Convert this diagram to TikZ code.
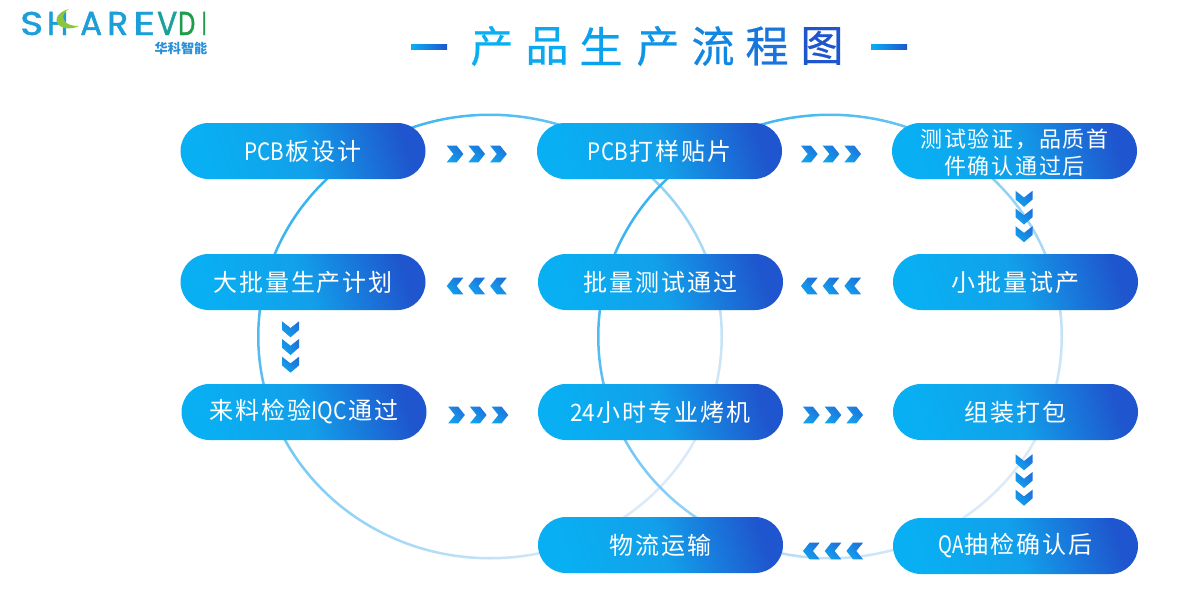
\documentclass[tikz,border=0pt]{standalone}
\usepackage{fontspec}
\setmainfont{Noto Sans CJK SC}
\newfontfamily\logofont[FakeBold=1.5]{Poppins}
\newfontfamily\boxfont[LetterSpace=8]{Noto Sans CJK SC}
\newfontfamily\latfont{Noto Sans CJK SC}
\newfontfamily\titlefont[FakeBold=0.6]{Noto Sans CJK SC}
\usetikzlibrary{calc,shapes.misc}
\definecolor{gA}{HTML}{08B0F3}
\definecolor{gM}{HTML}{12A0EA}
\definecolor{gB}{HTML}{1F55CE}
\definecolor{ringS}{HTML}{38B4F0}
\definecolor{ringE}{HTML}{DCEAF9}
\definecolor{logoB}{HTML}{1C9FD8}
\definecolor{logoT}{HTML}{1CA09A}
\definecolor{logoG}{HTML}{1E9E4A}
\definecolor{logoL}{HTML}{8CC63F}
\definecolor{logoC}{HTML}{2A8FD8}
\definecolor{chevA}{HTML}{12A2EC}
\definecolor{chevB}{HTML}{1E72DC}
\tikzset{
  x=1pt,y=-1pt,
  flowbox/.style={rounded rectangle,minimum width=245pt,minimum height=56pt,inner sep=0pt,
    left color=gA,right color=gB,middle color=gM,shading angle=108,
    text=white,font=\boxfont\fontsize{24}{28}\selectfont,align=center},
  ring/.style={even odd rule,left color=ringS,right color=ringE,shading angle=45},
  chev/.style={left color=chevA,right color=chevB,shading angle=135},
  logoletter/.style={inner sep=0pt,anchor=west},
}
\newcommand{\chevR}[1]{%
  \foreach \d in {-21.7,0,21.7}{
    \begin{scope}[shift={(#1)},xshift=\d pt]
      \shade[chev] (-8.3,-8.3) -- (1.7,-8.3) -- (8.3,0) -- (1.7,8.3) -- (-8.3,8.3) -- (-1.6,0) -- cycle;
    \end{scope}}}
\newcommand{\chevL}[1]{%
  \foreach \d in {-21.7,0,21.7}{
    \begin{scope}[shift={(#1)},xshift=\d pt]
      \shade[chev] (8.3,-8.3) -- (-1.7,-8.3) -- (-8.3,0) -- (-1.7,8.3) -- (8.3,8.3) -- (1.6,0) -- cycle;
    \end{scope}}}
\newcommand{\chevD}[1]{%
  \foreach \d in {-17.7,0,17.7}{
    \begin{scope}[shift={(#1)},yshift=-\d pt]
      \shade[chev] (-8.5,-8) -- (0,-1.3) -- (8.5,-8) -- (8.5,0.7) -- (0,8) -- (-8.5,0.7) -- cycle;
    \end{scope}}}
\newcommand{\lat}[2]{\scalebox{#1}[1]{\latfont\fontsize{24}{28}\selectfont #2}\hspace{1.5pt}}
\begin{document}
\begin{tikzpicture}
\useasboundingbox[fill=white] (0,0) rectangle (1194,594);
% rings
\shade[ring] (490,336.5) ellipse (233 and 223) (490,336.5) ellipse (230.5 and 220.5);
\shade[ring] (830,336.5) ellipse (233 and 223) (830,336.5) ellipse (230.5 and 220.5);
% boxes
\node[flowbox] (a1) at (303,151) {\lat{.86}{PCB}板设计};
\node[flowbox] (a2) at (659.5,151) {\lat{.86}{PCB}打样贴片};
\node[flowbox,font=\boxfont\fontsize{22}{27}\selectfont] (a3) at (1014.5,151) {\raisebox{-5pt}[\height][\depth]{\begin{tabular}{@{}c@{}}测试验证，品质首\\件确认通过后\end{tabular}}};
\node[flowbox] (b1) at (303,282) {大批量生产计划};
\node[flowbox] (b2) at (660.5,282) {批量测试通过};
\node[flowbox] (b3) at (1015.5,282) {小批量试产};
\node[flowbox] (c1) at (304,412) {来料检验\lat{.88}{IQC}通过};
\node[flowbox] (c2) at (660.5,412) {\lat{.94}{24}小时专业烤机};
\node[flowbox] (c3) at (1015.5,412) {组装打包};
\node[flowbox] (d2) at (660.5,545) {物流运输};
\node[flowbox] (d3) at (1015.5,546) {\lat{.78}{QA}抽检确认后};
% chevron connectors
\chevR{$(a1.east)!0.5!(a2.west)+(-4.5,3)$}
\chevR{$(a2.east)!0.5!(a3.west)+(-6,3)$}
\chevL{$(b2.east)!0.5!(b3.west)+(-7,4)$}
\chevL{$(b1.east)!0.5!(b2.west)+(-5,4)$}
\chevR{$(c1.east)!0.5!(c2.west)+(-4,3)$}
\chevR{$(c2.east)!0.5!(c3.west)+(-5,3)$}
\chevL{$(d2.east)!0.5!(d3.west)+(-5,5.5)$}
\chevD{$(a3.south)!0.5!(b3.north)+(9,0)$}
\chevD{$(b1.south)!0.5!(c1.north)+(-13,0)$}
\chevD{$(c3.south)!0.5!(d3.north)+(8.5,1)$}
% title
\shade[left color=gA,right color=gB] (411,44.5) rectangle (447,50);
\shade[left color=gA,right color=gB] (871,44.5) rectangle (907,50);
\foreach \ch/\xx/\mix in {产/492/100,品/547/92,生/601/84,产/658/70,流/713/55,程/767/35,图/822/0}{
  \colorlet{tc}{gA!\mix!gB}
  \node[text=tc,font=\titlefont\fontsize{43}{46}\selectfont,inner sep=0pt] at (\xx,46) {\ch};
}
% logo
\foreach \ltr/\xx/\ww/\cc in {S/20/23/logoB,H/47/21/logoB,A/80/22/logoB,R/107/21/logoB,E/133/22/logoB,V/157/20/logoT,D/178/17/logoG,I/202/4/logoG}{
  \node[logoletter,text=\cc] at (\xx,23.5) {\logofont\resizebox{\ww pt}{23pt}{\ltr}};
}
\fill[logoL] (69,9) .. controls (57,12) and (53,21) .. (60,26) .. controls (65,29.5) and (73,29) .. (79,26)
  .. controls (73,26) and (66,25) .. (64,20) .. controls (62,16) and (64,12) .. (69,9) -- cycle;
\node[text=logoC,inner sep=0pt,font=\fontsize{13.2}{14}\selectfont\bfseries] (lgc) at (181,48.5) {华科智能};
\end{tikzpicture}
\end{document}
